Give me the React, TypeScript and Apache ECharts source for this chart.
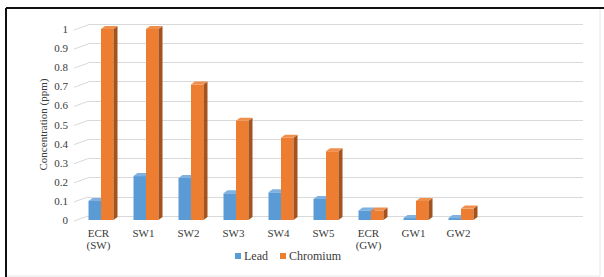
import React, { useEffect, useRef } from "react";
import * as echarts from "echarts";

const categories = ["ECR\n(SW)", "SW1", "SW2", "SW3", "SW4", "SW5", "ECR\n(GW)", "GW1", "GW2"];
const leadValues = [0.1, 0.23, 0.22, 0.14, 0.145, 0.11, 0.05, 0.01, 0.01];
const chromiumValues = [1.0, 1.0, 0.71, 0.52, 0.43, 0.36, 0.05, 0.1, 0.06];
const seriesNames = ["Lead", "Chromium"];
const yTickValues = [0, 0.1, 0.2, 0.3, 0.4, 0.5, 0.6, 0.7, 0.8, 0.9, 1];

const FONT = "Liberation Serif";
const TEXT = "#3a3a3a";
const BLUE = { front: "#5b9bd5", side: "#3f73a6", top: "#7fb2e0" };
const ORANGE = { front: "#ed7d31", side: "#a5521c", top: "#f08f4c" };
const BAR_W = 12.5;
const DX = 4;
const DY = 3;
const SHIFT = 2.5;

function bar3d(offsetIndex: number, colors: { front: string; side: string; top: string }) {
  return (params: any, api: any) => {
    const idx = api.value(0);
    const val = api.value(1);
    const top = api.coord([idx, val]);
    const base = api.coord([idx, 0]);
    const cx = top[0] + SHIFT;
    const x0 = offsetIndex === 0 ? cx - BAR_W : cx;
    const x1 = x0 + BAR_W;
    const yt = top[1];
    const yb = base[1];
    return {
      type: "group",
      children: [
        {
          type: "rect",
          shape: { x: x0, y: yt, width: BAR_W, height: Math.max(yb - yt, 0.5) },
          style: { fill: colors.front },
        },
        {
          type: "polygon",
          shape: { points: [[x1, yt], [x1 + DX, yt - DY], [x1 + DX, yb - DY], [x1, yb]] },
          style: { fill: colors.side },
        },
        {
          type: "polygon",
          shape: { points: [[x0, yt], [x0 + DX, yt - DY], [x1 + DX, yt - DY], [x1, yt]] },
          style: { fill: colors.top },
        },
      ],
    };
  };
}

export default function App() {
  const ref = useRef<HTMLDivElement>(null);
  useEffect(() => {
    document.body.style.margin = "0";
    const chart = echarts.init(ref.current!, null, { renderer: "svg" });
    const frontLeft = 76;
    const backLeft = 88;
    chart.setOption({
      animation: false,
      backgroundColor: "#ffffff",
      textStyle: { fontFamily: FONT },
      grid: [
        { left: backLeft, top: 24, width: 495, height: 192 },
        { left: frontLeft, top: 29, width: 405, height: 191 },
      ],
      xAxis: [
        { type: "value", gridIndex: 0, show: false, min: 0, max: 1 },
        {
          type: "category",
          gridIndex: 1,
          data: categories,
          axisLine: { show: false },
          axisTick: { show: false },
          axisLabel: { color: TEXT, fontFamily: FONT, fontSize: 11, margin: 7, lineHeight: 12, interval: 0 },
        },
      ],
      yAxis: [
        {
          type: "value",
          gridIndex: 0,
          min: 0,
          max: 1,
          interval: 0.1,
          axisLabel: { show: false },
          axisLine: { show: false },
          axisTick: { show: false },
          splitLine: { lineStyle: { color: "#d9d9d9", width: 1 } },
        },
        {
          type: "value",
          gridIndex: 1,
          min: 0,
          max: 1,
          interval: 0.1,
          axisLine: { show: false },
          axisTick: { show: false },
          splitLine: { show: false },
          axisLabel: { color: TEXT, fontFamily: FONT, fontSize: 11, margin: 8 },
          name: "Concentration (ppm)",
          nameLocation: "middle",
          nameGap: 28,
          nameMoveOverlap: false,
          nameTextStyle: { color: TEXT, fontFamily: FONT, fontSize: 11 },
        },
      ],
      legend: {
        left: 230,
        top: 245,
        itemWidth: 6,
        itemHeight: 6,
        itemGap: 12,
        icon: "rect",
        textStyle: { color: TEXT, fontFamily: FONT, fontSize: 12, padding: [0, 0, 0, -2] },
        data: seriesNames,
      },
      series: [
        {
          type: "custom",
          name: "slants",
          xAxisIndex: 1,
          yAxisIndex: 1,
          silent: true,
          data: yTickValues.map((v) => [0, v]),
          renderItem: (params: any, api: any) => {
            const p = api.coord([0, api.value(1)]);
            return {
              type: "line",
              shape: { x1: frontLeft - 2, y1: p[1] + 1, x2: backLeft, y2: p[1] - 4 },
              style: { stroke: "#d9d9d9", lineWidth: 1 },
            };
          },
        },
        {
          type: "custom",
          name: seriesNames[0],
          xAxisIndex: 1,
          yAxisIndex: 1,
          itemStyle: { color: BLUE.front },
          data: leadValues.map((v, i) => [i, v]),
          renderItem: bar3d(0, BLUE),
        },
        {
          type: "custom",
          name: seriesNames[1],
          xAxisIndex: 1,
          yAxisIndex: 1,
          itemStyle: { color: ORANGE.front },
          data: chromiumValues.map((v, i) => [i, v]),
          renderItem: bar3d(1, ORANGE),
        },
      ],
      graphic: [
        { type: "line", shape: { x1: 6, y1: 8, x2: 604, y2: 8 }, style: { stroke: "#111", lineWidth: 2 } },
        { type: "line", shape: { x1: 6, y1: 8, x2: 6, y2: 277 }, style: { stroke: "#111", lineWidth: 2 } },
        { type: "line", shape: { x1: 600, y1: 9, x2: 600, y2: 276 }, style: { stroke: "#e6e6e6", lineWidth: 1 } },
        { type: "line", shape: { x1: 7, y1: 276, x2: 600, y2: 276 }, style: { stroke: "#e6e6e6", lineWidth: 1 } },
      ],
    });
    return () => chart.dispose();
  }, []);
  return <div ref={ref} style={{ width: 604, height: 277 }} />;
}
